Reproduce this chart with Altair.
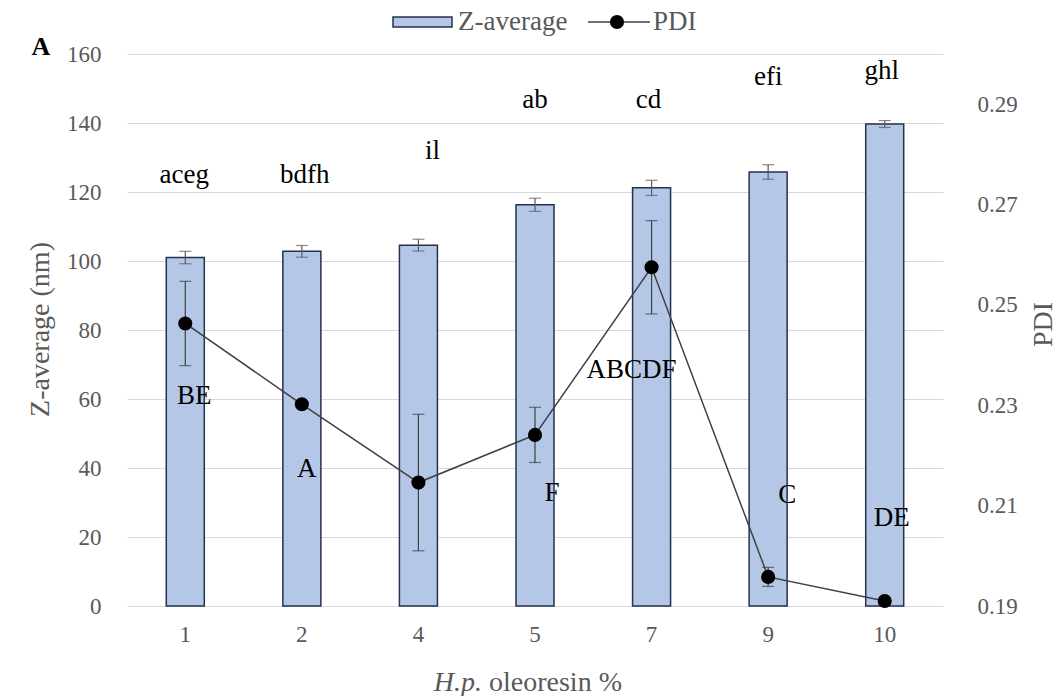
import altair as alt
import pandas as pd

# ---- data ----
cats = ["1", "2", "4", "5", "7", "9", "10"]
z_avg = [101.0, 102.8, 104.6, 116.3, 121.2, 125.8, 139.7]
z_err = [1.8, 1.7, 1.7, 1.9, 2.2, 2.1, 1.0]
pdi = [0.2463, 0.2302, 0.2146, 0.2241, 0.2575, 0.1958, 0.1910]
pdi_err = [0.0084, 0.0005, 0.0136, 0.0055, 0.0093, 0.0019, 0.0004]

z_letters = ["aceg", "bdfh", "il", "ab", "cd", "efi", "ghl"]
z_letter_y = [124.8, 124.8, 132.0, 146.6, 146.6, 153.2, 155.2]
z_letter_dx = [-1, 3, 14, 0, -3, 0, -3]

p_letters = ["BE", "A", "", "F", "ABCDF", "C", "DE"]
p_letter_y = [61.0, 39.6, 0.0, 32.7, 68.3, 32.1, 25.4]
p_letter_dx = [9, 5, 0, 17, -20, 19, 7]

df = pd.DataFrame({
    "cat": cats,
    "z": z_avg,
    "zlo": [v - e for v, e in zip(z_avg, z_err)],
    "zhi": [v + e for v, e in zip(z_avg, z_err)],
    "pdi": pdi,
    "plo": [v - e for v, e in zip(pdi, pdi_err)],
    "phi": [v + e for v, e in zip(pdi, pdi_err)],
    "zlab": z_letters,
    "zlab_y": z_letter_y,
    "plab": p_letters,
    "plab_y": p_letter_y,
})

SERIF = "Liberation Serif, Times New Roman, serif"
GREY = "#595959"
BAR_FILL = "#B4C7E7"
BAR_STROKE = "#25314D"

W, H = 816, 552

xaxis = alt.Axis(title=None, domain=False, ticks=False, grid=False,
                 labelAngle=0, labelFont=SERIF, labelFontSize=23,
                 labelColor=GREY, labelPadding=17)
xscale = alt.Scale(domain=cats, paddingInner=0, paddingOuter=0)


def X():
    return alt.X("cat:N", sort=cats, scale=xscale, axis=xaxis)


zscale = alt.Scale(domain=[0, 160], nice=False, zero=True)
pscale = alt.Scale(domain=[0.19, 0.30], nice=False, zero=False)

zaxis = alt.Axis(values=list(range(0, 161, 20)), grid=True, gridColor="#D9D9D9",
                 gridWidth=1.2, domain=False, ticks=False,
                 labelFont=SERIF, labelFontSize=23, labelColor=GREY, labelPadding=26,
                 title="Z-average (nm)", titleFont=SERIF, titleFontSize=28,
                 titleFontWeight="normal", titleColor=GREY,
                 titleAngle=270, titleAlign="center", titleBaseline="middle",
                 titleX=-87, titleY=275)
paxis = alt.Axis(orient="right", values=[0.19, 0.21, 0.23, 0.25, 0.27, 0.29],
                 format=".2f", grid=False, domain=False, ticks=False,
                 labelFont=SERIF, labelFontSize=23, labelColor=GREY, labelPadding=34,
                 labelAlign="left",
                 title="PDI", titleFont=SERIF, titleFontSize=28,
                 titleFontWeight="normal", titleColor=GREY,
                 titleAngle=270, titleAlign="center", titleBaseline="middle",
                 titleX=100, titleY=270)


def ZY(field):
    return alt.Y(field, scale=zscale, axis=zaxis)


def PY(field):
    return alt.Y(field, scale=pscale, axis=paxis)


base = alt.Chart(df)

bars = base.mark_bar(size=38, color=BAR_FILL, stroke=BAR_STROKE, strokeWidth=1.5).encode(
    x=X(), y=ZY("z:Q"))
z_rule = base.mark_rule(color=GREY, strokeWidth=1.2).encode(
    x=X(), y=ZY("zlo:Q"), y2="zhi:Q")
z_cap_lo = base.mark_tick(color=GREY, size=12, thickness=1.2, orient="horizontal").encode(
    x=X(), y=ZY("zlo:Q"))
z_cap_hi = base.mark_tick(color=GREY, size=12, thickness=1.2, orient="horizontal").encode(
    x=X(), y=ZY("zhi:Q"))

label_layers = []
for c, d in zip(cats, z_letter_dx):
    label_layers.append(
        base.transform_filter(alt.datum.cat == c).mark_text(
            font=SERIF, fontSize=27, color="black", baseline="middle", align="center", dx=d
        ).encode(x=X(), y=ZY("zlab_y:Q"), text="zlab:N")
    )
for c, lab, d in zip(cats, p_letters, p_letter_dx):
    if not lab:
        continue
    label_layers.append(
        base.transform_filter(alt.datum.cat == c).mark_text(
            font=SERIF, fontSize=27, color="black", baseline="middle", align="center", dx=d
        ).encode(x=X(), y=ZY("plab_y:Q"), text="plab:N")
    )

# decorations (legend, panel letter, x title)
ann = alt.Chart(pd.DataFrame({"k": [0]}))
leg_rect = ann.mark_rect(fill=BAR_FILL, stroke=BAR_STROKE, strokeWidth=1.5).encode(
    x=alt.value(266), x2=alt.value(325), y=alt.value(-37), y2=alt.value(-27))
leg_ztext = ann.mark_text(text="Z-average", font=SERIF, fontSize=27, color=GREY,
                          align="left", baseline="middle").encode(
    x=alt.value(331), y=alt.value(-32))
leg_line = ann.mark_rule(color="#404040", strokeWidth=1.5).encode(
    x=alt.value(461), x2=alt.value(523), y=alt.value(-32))
leg_dot = ann.mark_circle(color="black", size=200, opacity=1).encode(
    x=alt.value(490), y=alt.value(-32))
leg_ptext = ann.mark_text(text="PDI", font=SERIF, fontSize=27, color=GREY,
                          align="left", baseline="middle").encode(
    x=alt.value(526), y=alt.value(-32))
panel_a = ann.mark_text(text="A", font=SERIF, fontSize=26, fontWeight="bold", color="black",
                        align="center", baseline="middle").encode(
    x=alt.value(-86), y=alt.value(-7))
xt_it = ann.mark_text(text="H.p.", font=SERIF, fontSize=28, fontStyle="italic", color=GREY,
                      align="right", baseline="middle").encode(
    x=alt.value(355), y=alt.value(629))
xt_rest = ann.mark_text(text="oleoresin %", font=SERIF, fontSize=28, color=GREY,
                        align="left", baseline="middle").encode(
    x=alt.value(362), y=alt.value(629))

left = alt.layer(bars, z_rule, z_cap_lo, z_cap_hi, *label_layers)

line = base.mark_line(color="#404040", strokeWidth=1.5).encode(x=X(), y=PY("pdi:Q"))
p_rule = base.mark_rule(color="#404040", strokeWidth=1.2).encode(
    x=X(), y=PY("plo:Q"), y2="phi:Q")
p_cap_lo = base.mark_tick(color="#404040", size=12, thickness=1.2, orient="horizontal").encode(
    x=X(), y=PY("plo:Q"))
p_cap_hi = base.mark_tick(color="#404040", size=12, thickness=1.2, orient="horizontal").encode(
    x=X(), y=PY("phi:Q"))
pts = base.mark_circle(color="black", size=200, opacity=1).encode(x=X(), y=PY("pdi:Q"))

right = alt.layer(p_rule, p_cap_lo, p_cap_hi, line, pts)

chart = alt.layer(
    left, right,
    leg_rect, leg_ztext, leg_line, leg_dot, leg_ptext, panel_a, xt_it, xt_rest
).resolve_scale(y="independent").properties(
    width=W, height=H,
    background="white",
    autosize=alt.AutoSizeParams(type="none"),
    padding={"left": 127, "top": 54, "right": 116, "bottom": 90},
).configure(
    font=SERIF,
    style={"guide-label": {"font": SERIF}, "guide-title": {"font": SERIF}},
).configure_view(stroke=None).configure_axis(
    labelFont=SERIF, titleFont=SERIF, labelFontSize=23, titleFontSize=28,
    labelColor=GREY, titleColor=GREY, titleFontWeight="normal"
)

chart.save("out.html", embed_options={"renderer": "svg", "actions": False})
